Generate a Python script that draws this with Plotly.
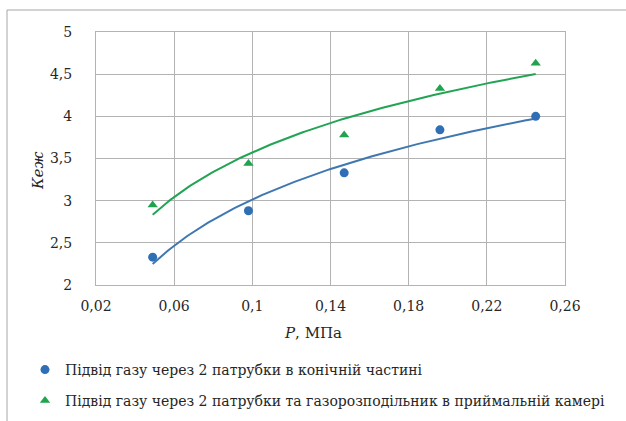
import numpy as np
import plotly.graph_objects as go

# Data
p_values = [0.049, 0.098, 0.147, 0.196, 0.245]
k_series1 = [2.33, 2.88, 3.33, 3.84, 4.00]
k_series2 = [2.95, 3.44, 3.78, 4.33, 4.63]
name1 = "Підвід газу через 2 патрубки в конічній частині"
name2 = "Підвід газу через 2 патрубки та газорозподільник в приймальній камері"
x_tickvals = [0.02, 0.06, 0.10, 0.14, 0.18, 0.22, 0.26]
x_ticktext = ["0,02", "0,06", "0,1", "0,14", "0,18", "0,22", "0,26"]
y_tickvals = [2, 2.5, 3, 3.5, 4, 4.5, 5]
y_ticktext = ["2", "2,5", "3", "3,5", "4", "4,5", "5"]

BLUE = "#2f6fb5"
BLUE_LINE = "#3f78b0"
GREEN = "#1fa34f"
GREEN_LINE = "#22a454"
GRID = "#b3b3b3"
FONT = "DejaVu Serif"
TXT = "#262626"

W, H = 626, 421
L, R, T, B = 96, 61, 32, 136
PW, PH = W - L - R, H - T - B


def px_x(px):
    return (px - L) / PW


def px_y(py):
    return (H - B - py) / PH


def log_trend(xs, ys):
    a, b = np.polyfit(np.log(xs), ys, 1)
    xx = np.linspace(min(xs), max(xs), 200)
    return xx, a * np.log(xx) + b


fig = go.Figure()
for ys, col, lcol, sym, nm, lg in [
    (k_series1, BLUE, BLUE_LINE, "circle", name1, "legend"),
    (k_series2, GREEN, GREEN_LINE, "triangle-up", name2, "legend2"),
]:
    tx, ty = log_trend(p_values, ys)
    fig.add_trace(go.Scatter(x=tx, y=ty, mode="lines", line=dict(color=lcol, width=2),
                             showlegend=False, hoverinfo="skip"))
    fig.add_trace(go.Scatter(x=p_values, y=ys, mode="markers", name=nm, legend=lg,
                             marker=dict(color=col, symbol=sym, size=9, line=dict(width=0))))

axis_common = dict(showgrid=True, gridcolor=GRID, gridwidth=1, showline=True, linecolor=GRID,
                   linewidth=1, mirror=True, zeroline=False, ticks="",
                   tickfont=dict(family=FONT, size=14, color=TXT))

leg_common = dict(xanchor="left", yanchor="middle", bgcolor="rgba(0,0,0,0)",
                  font=dict(family=FONT, size=14, color=TXT))

fig.update_layout(
    width=W, height=H, margin=dict(l=L, r=R, t=T, b=B, autoexpand=False),
    paper_bgcolor="white", plot_bgcolor="white",
    font=dict(family=FONT),
    xaxis=dict(range=[0.02, 0.26], tickvals=x_tickvals, ticktext=x_ticktext,
               ticklabelstandoff=8, **axis_common),
    yaxis=dict(range=[2, 5], tickvals=y_tickvals, ticktext=y_ticktext,
               ticklabelstandoff=20, **axis_common),
    legend=dict(x=px_x(25), y=px_y(370), **leg_common),
    legend2=dict(x=px_x(25), y=px_y(401), **leg_common),
    annotations=[
        dict(text="<i>P</i>, МПа", x=px_x(313), y=px_y(333), xref="paper", yref="paper",
             showarrow=False, font=dict(family=FONT, size=15, color=TXT),
             xanchor="center", yanchor="middle"),
        dict(text="<i>Кеж</i>", x=px_x(38), y=px_y(171), xref="paper", yref="paper",
             showarrow=False, textangle=-90, font=dict(family=FONT, size=15, color=TXT),
             xanchor="center", yanchor="middle"),
    ],
    shapes=[
        dict(type="rect", xref="paper", yref="paper", x0=px_x(7), y0=px_y(440),
             x1=px_x(660), y1=px_y(10), line=dict(color="#a6a6a6", width=1),
             fillcolor="rgba(0,0,0,0)", layer="below"),
    ],
)

fig.write_html("out.html")
